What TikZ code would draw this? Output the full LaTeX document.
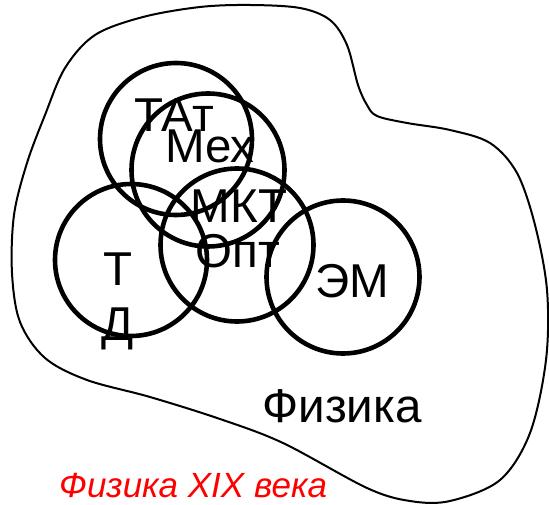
\documentclass[tikz,border=0pt]{standalone}
\usepackage{fontspec}
\setmainfont{Liberation Sans}
\begin{document}
\begin{tikzpicture}[x=1pt,y=-1pt,
  ring/.style={draw=black,line width=4.6pt,circle,inner sep=0pt},
  blob/.style={draw=black,line width=2pt},
  lbl/.style={anchor=base,inner sep=0pt,font=\fontsize{47.5}{55}\selectfont},
  redlbl/.style={anchor=base west,inner sep=0pt,text=red,font=\fontsize{35}{40}\selectfont\itshape}]
\useasboundingbox (0,0) rectangle (549,505);
% outer region
\draw[blob] plot[smooth cycle,tension=0.55] coordinates {
 (377,116) (407,123) (450,130) (490,143) (517,173) (535,225) (547,290) (546,360)
 (530,433) (500,480) (450,501) (410,501) (367,488) (283,443) (220,419) (150,397)
 (87,380) (45,358) (20,322) (12,273) (14,215) (27,163) (45,115) (65,68) (95,35)
 (143,17) (200,7) (250,5) (300,8) (330,20) (347,45) (358,85) (367,105)};
% circles
\node[ring,minimum size=152pt] (tat) at (176,139) {};
\node[ring,minimum size=153pt] (mex) at (208,170) {};
\node[ring,minimum size=153pt] (mkt) at (237,245) {};
\node[ring,minimum size=152pt] (td) at (131,260) {};
\node[ring,minimum size=153pt] (em) at (343,277) {};
% labels
\node[lbl] (ltat) at (174,132) {ТАт};
\node[lbl] (lmex) at (210,163) {Мех};
\node[lbl] (lmkt) at (239,223) {МКТ};
\node[lbl] (lopt) at (238,268) {Опт};
\node[lbl] (lt) at (118,285) {Т};
\node[lbl] (ld) at (118,340) {Д};
\node[lbl] (lem) at (352,298) {ЭМ};
\node[lbl] (lphys) at (342,422) {Физика};
\node[redlbl] (lred) at (59,497) {Физика XIX века};
\end{tikzpicture}
\end{document}
